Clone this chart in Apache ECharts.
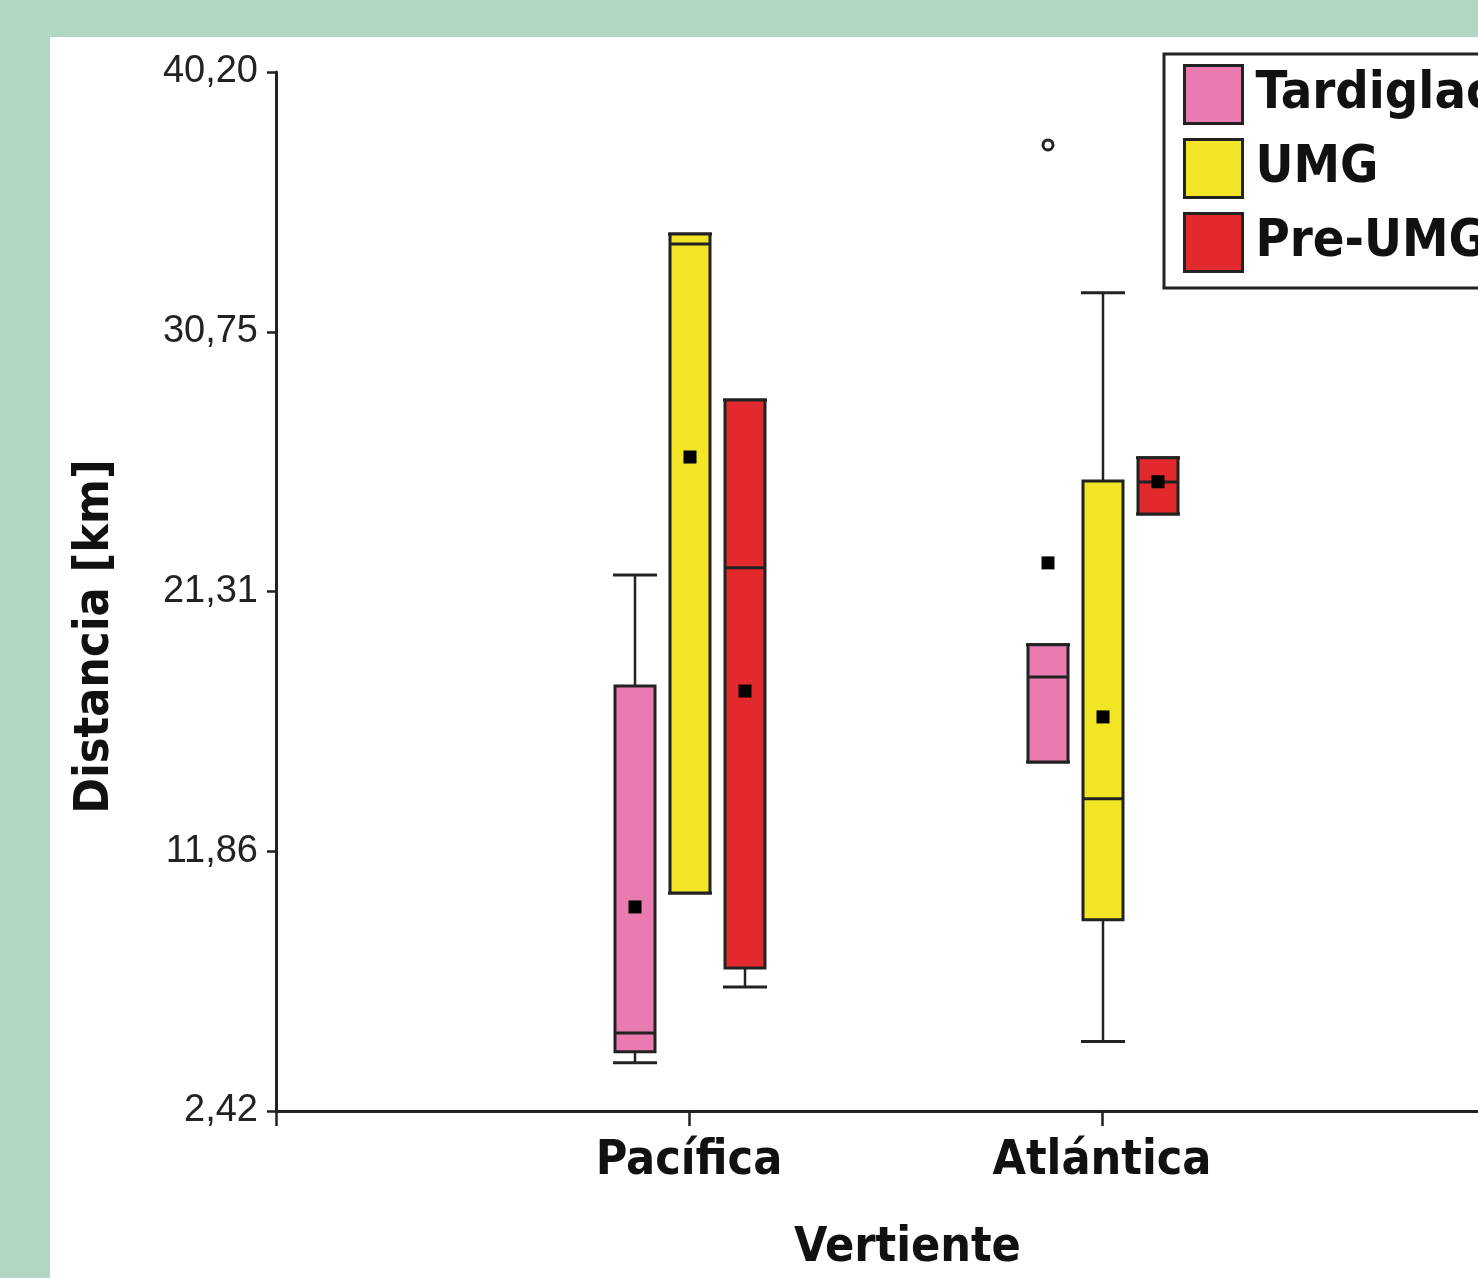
<!DOCTYPE html>
<html>
<head>
<meta charset="utf-8">
<script src="https://cdn.jsdelivr.net/npm/echarts@6/dist/echarts.min.js"></script>
<style>
  html, body { margin: 0; padding: 0; width: 1478px; height: 1278px; overflow: hidden; background: #b0d7c2; }
  #chart { position: absolute; left: 50px; top: 37px; width: 1520px; height: 1241px; background: #ffffff; }
</style>
</head>
<body>
<div id="chart"></div>
<script>
// ---- data ----
const categories = ['Pacífica', 'Atlántica'];
const groups = ['Tardiglaciar', 'UMG', 'Pre-UMG'];
// per category: [whiskerLow, q1, median, q3, whiskerHigh, mean]
const tardiglaciar = [
  [4.17, 4.57, 5.26, 17.87, 21.91, 9.84],
  [15.11, 15.11, 18.20, 19.37, 19.37, 22.35]
];
const umg = [
  [10.35, 10.35, 33.95, 34.31, 34.31, 26.20],
  [4.95, 9.37, 13.77, 25.33, 32.17, 16.75]
];
const preUmg = [
  [6.93, 7.62, 22.17, 28.27, 28.27, 17.69],
  [24.13, 24.13, 25.29, 26.17, 26.17, 25.30]
];
// outliers: [categoryIndex (1-based), groupIndex, value]
const outliers = [[2, 0, 37.55]];
const yTickValues = [2.42, 11.865, 21.31, 30.755, 40.20];
const yTickLabels = ['2,42', '11,86', '21,31', '30,75', '40,20'];

// ---- styling ----
const colors = ['#e97bb0', '#f2e526', '#e2292e'];
const groupOffsets = [-54, 1, 56];
const ink = '#222222';
const condensed = "'DejaVu Sans Condensed', 'DejaVu Sans', sans-serif";
const bigFont = 48;

function boxRenderer(offset) {
  return function (params, api) {
    const cat = api.value(0);
    const cx = api.coord([cat, 2.42])[0] + offset;
    const y = i => api.coord([cat, api.value(i)])[1];
    const yLow = y(1), yQ1 = y(2), yMed = y(3), yQ3 = y(4), yHigh = y(5), yMean = y(6);
    const hw = 20, cap = 22, ms = 6.5;
    const line = (x1, y1, x2, y2, w) => ({ type: 'line', shape: { x1, y1, x2, y2 }, style: { stroke: ink, lineWidth: w } });
    return {
      type: 'group',
      children: [
        line(cx, yHigh, cx, yQ3, 2.5),
        line(cx, yQ1, cx, yLow, 2.5),
        line(cx - cap, yHigh, cx + cap, yHigh, 3),
        line(cx - cap, yLow, cx + cap, yLow, 3),
        { type: 'rect', shape: { x: cx - hw, y: yQ3, width: 2 * hw, height: yQ1 - yQ3 },
          style: { fill: api.visual('color'), stroke: ink, lineWidth: 3 } },
        line(cx - hw, yMed, cx + hw, yMed, 3),
        { type: 'rect', shape: { x: cx - ms, y: yMean - ms, width: 2 * ms, height: 2 * ms }, style: { fill: '#000' } }
      ]
    };
  };
}

function outlierRenderer(params, api) {
  const cat = api.value(0);
  const g = api.value(1);
  const p = api.coord([cat, api.value(2)]);
  return { type: 'circle', shape: { cx: p[0] + groupOffsets[g], cy: p[1], r: 5 },
           style: { fill: '#fff', stroke: ink, lineWidth: 3 } };
}

const groupData = [tardiglaciar, umg, preUmg];
const series = groups.map((name, gi) => ({
  name: name,
  type: 'custom',
  itemStyle: { color: colors[gi] },
  renderItem: boxRenderer(groupOffsets[gi]),
  encode: { x: 0, y: [1, 2, 3, 4, 5, 6] },
  data: groupData[gi].map((d, ci) => [ci + 1].concat(d)),
  z: 3
}));
series.push({
  name: 'outliers',
  type: 'custom',
  renderItem: outlierRenderer,
  encode: { x: 0, y: 2 },
  data: outliers,
  z: 4
});

const chart = echarts.init(document.getElementById('chart'), null, { renderer: 'canvas' });
chart.setOption({
  animation: false,
  backgroundColor: 'transparent',
  grid: { left: 226, top: 35, bottom: 167, right: 55, containLabel: false, outerBoundsMode: 'none' },
  legend: {
    data: groups,
    orient: 'vertical',
    left: 1114, top: 17,
    itemWidth: 58, itemHeight: 58, itemGap: 13,
    padding: [10, 60, 15, 19],
    borderColor: ink, borderWidth: 3, borderRadius: 0,
    backgroundColor: '#fff',
    icon: 'rect',
    itemStyle: { borderColor: ink, borderWidth: 3 },
    textStyle: { fontSize: bigFont + 4, fontWeight: 'bold', fontFamily: condensed, color: '#111', padding: [0, 0, 0, 8] }
  },
  xAxis: {
    type: 'value', min: 0, max: 3, interval: 1,
    name: 'Vertiente', nameLocation: 'middle', nameGap: 114,
    nameTextStyle: { fontSize: bigFont, fontWeight: 'bold', fontFamily: condensed, color: '#111', padding: [0, 0, 0, 24] },
    axisLine: { show: true, lineStyle: { color: ink, width: 3 } },
    axisTick: { show: true, length: 15, lineStyle: { color: ink, width: 2.5 } },
    axisLabel: { margin: 27, fontSize: bigFont, fontWeight: 'bold', fontFamily: condensed, color: '#111',
      formatter: v => categories[v - 1] || '' },
    splitLine: { show: false }
  },
  yAxis: {
    type: 'value', min: 2.42, max: 40.20,
    name: 'Distancia [km]', nameLocation: 'middle', nameRotate: 90, nameGap: 156,
    nameTextStyle: { fontSize: bigFont, fontWeight: 'bold', fontFamily: condensed, color: '#111', padding: [0, 90, 0, 0] },
    axisLine: { show: true, lineStyle: { color: ink, width: 3 } },
    axisTick: { show: true, length: 9, lineStyle: { color: ink, width: 2.5 }, customValues: yTickValues },
    axisLabel: { margin: 18, fontSize: 38, fontFamily: "'Liberation Sans', Arial, sans-serif", color: '#222',
      customValues: yTickValues,
      formatter: v => {
        const i = yTickValues.findIndex(t => Math.abs(t - v) < 1e-6);
        return i >= 0 ? yTickLabels[i] : '';
      } },
    splitLine: { show: false }
  },
  series: series
});
</script>
</body>
</html>
